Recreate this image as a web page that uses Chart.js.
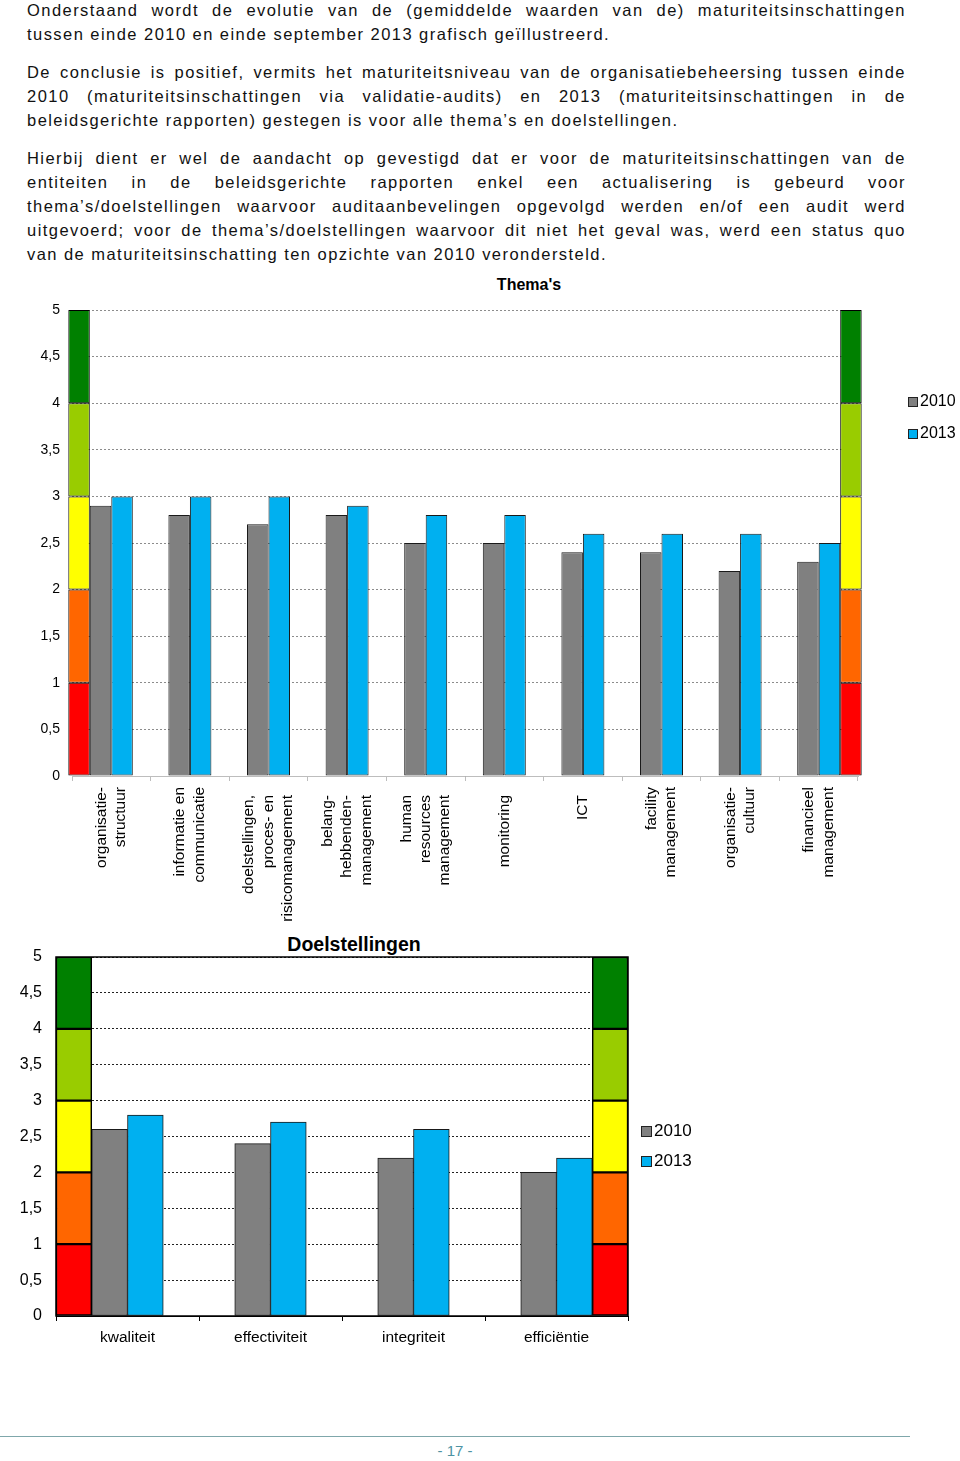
<!DOCTYPE html>
<html><head><meta charset="utf-8">
<script src="https://cdn.jsdelivr.net/npm/chart.js@4.4.0/dist/chart.umd.min.js"></script>
<style>
html,body{margin:0;padding:0;background:#fff;}
body{width:960px;height:1461px;position:relative;overflow:hidden;font-family:'Liberation Sans',Arial,sans-serif;color:#111;}
#text{position:absolute;left:27px;top:-2px;width:879px;font-size:16.5px;letter-spacing:1.45px;line-height:24px;}
#text .p{margin:0 0 14px 0;}
#text .j{text-align:justify;text-align-last:justify;}
#text .l{text-align:left;}
.title{position:absolute;font-weight:bold;text-align:center;color:#000;}
.leg{position:absolute;color:#000;white-space:nowrap;}
.leg span.sw{display:inline-block;border:1px solid #222;vertical-align:middle;margin-right:2px;}
.cw{position:absolute;left:0;}
#foot{position:absolute;left:0;top:1436px;width:910px;height:1px;background:#7fa7ab;}
#pg{position:absolute;left:405px;width:100px;top:1442px;text-align:center;font-size:15px;color:#4d93a3;}
</style>
</head><body>
<div id="text">
<div class="p">
<div class="j">Onderstaand wordt de evolutie van de (gemiddelde waarden van de) maturiteitsinschattingen</div>
<div class="l">tussen einde 2010 en einde september 2013 grafisch geïllustreerd.</div>
</div>
<div class="p">
<div class="j">De conclusie is positief, vermits het maturiteitsniveau van de organisatiebeheersing tussen einde</div>
<div class="j">2010 (maturiteitsinschattingen via validatie-audits) en 2013 (maturiteitsinschattingen in de</div>
<div class="l">beleidsgerichte rapporten) gestegen is voor alle thema’s en doelstellingen.</div>
</div>
<div class="p">
<div class="j">Hierbij dient er wel de aandacht op gevestigd dat er voor de maturiteitsinschattingen van de</div>
<div class="j">entiteiten in de beleidsgerichte rapporten enkel een actualisering is gebeurd voor</div>
<div class="j">thema’s/doelstellingen waarvoor auditaanbevelingen opgevolgd werden en/of een audit werd</div>
<div class="j">uitgevoerd; voor de thema’s/doelstellingen waarvoor dit niet het geval was, werd een status quo</div>
<div class="l">van de maturiteitsinschatting ten opzichte van 2010 verondersteld.</div>
</div>
</div>

<div class="title" style="left:429px;width:200px;top:276px;font-size:16px;">Thema's</div>
<div class="cw" style="top:290px;width:960px;height:640px;"><canvas id="c1" width="960" height="640"></canvas></div>
<div class="leg" style="left:908px;top:392px;font-size:16px;"><span class="sw" style="width:8px;height:8px;background:#808080"></span>2010</div>
<div class="leg" style="left:908px;top:424px;font-size:16px;"><span class="sw" style="width:8px;height:8px;background:#00b0f0"></span>2013</div>

<div class="title" style="left:204px;width:300px;top:933px;font-size:19.5px;">Doelstellingen</div>
<div class="cw" style="top:940px;width:700px;height:410px;"><canvas id="c2" width="700" height="410"></canvas></div>
<div class="leg" style="left:641px;top:1121px;font-size:17px;"><span class="sw" style="width:9px;height:9px;background:#808080"></span>2010</div>
<div class="leg" style="left:641px;top:1151px;font-size:17px;"><span class="sw" style="width:9px;height:9px;background:#00b0f0"></span>2013</div>

<div id="foot"></div>
<div id="pg">- 17 -</div>

<script>
// ---- data ----
const themaCategories = ['organisatiestructuur','informatie en communicatie','doelstellingen, proces- en risicomanagement','belanghebbendenmanagement','human resources management','monitoring','ICT','facility management','organisatiecultuur','financieel management'];
const themaLabelLines = [
  ['organisatie-','structuur'],
  ['informatie en','communicatie'],
  ['doelstellingen,','proces- en','risicomanagement'],
  ['belang-','hebbenden-','management'],
  ['human','resources','management'],
  ['monitoring'],
  ['ICT'],
  ['facility','management'],
  ['organisatie-','cultuur'],
  ['financieel','management']
];
const thema2010 = [2.9, 2.8, 2.7, 2.8, 2.5, 2.5, 2.4, 2.4, 2.2, 2.3];
const thema2013 = [3.0, 3.0, 3.0, 2.9, 2.8, 2.8, 2.6, 2.6, 2.6, 2.5];

const doelCategories = ['kwaliteit','effectiviteit','integriteit','efficiëntie'];
const doel2010 = [2.6, 2.4, 2.2, 2.0];
const doel2013 = [2.8, 2.7, 2.6, 2.2];

const seriesNames = ['2010','2013'];
const bandSteps = [1, 1, 1, 1, 1];
const bandColors = ['#ff0000','#ff6600','#ffff00','#99cc00','#008000'];
const yTickValues = [0, 0.5, 1, 1.5, 2, 2.5, 3, 3.5, 4, 4.5, 5];

// ---- helpers ----
const FONT = "'Liberation Sans', Arial, sans-serif";
const fmt = v => String(v).replace('.', ',');

function bandDatasets(n, where, stack, bw) {
  return bandSteps.map((s, k) => ({
    label: 'band' + stack + k,
    data: Array.from({length: n}, (_, i) => i === where ? s : null),
    backgroundColor: bandColors[k],
    borderColor: '#000',
    borderWidth: bw,
    borderSkipped: false,
    stack: stack,
    clip: false
  }));
}
function seriesDatasets(a, b, bw) {
  return [
    {label: seriesNames[0], data: a, backgroundColor: '#808080', borderColor: '#1a1a1a', borderWidth: bw, borderSkipped: false, stack: 'a', clip: false},
    {label: seriesNames[1], data: b, backgroundColor: '#00b0f0', borderColor: '#1a1a1a', borderWidth: bw, borderSkipped: false, stack: 'b', clip: false}
  ];
}
const noPad = s => { s.paddingTop = 0; s.paddingBottom = 0; };

// ---- chart 1 ----
const n1 = themaCategories.length;
const LF1 = 15.5, LH1 = 1.25, lh1 = LF1 * LH1;
const evenLabels = themaLabelLines.map(l => l.length === 2 ? l : '');
const oddLabels = themaLabelLines.map(l => l.length === 3 ? l : (l.length === 1 ? ['', l[0], ''] : ''));

new Chart(document.getElementById('c1'), {
  type: 'bar',
  data: {
    labels: themaCategories,
    datasets: [
      ...bandDatasets(n1, 0, 'L', 1),
      ...seriesDatasets(thema2010, thema2013, 1),
      ...bandDatasets(n1, n1 - 1, 'R', 1)
    ]
  },
  options: {
    responsive: false,
    animation: false,
    categoryPercentage: 1.094,
    barPercentage: 1,
    layout: {padding: {top: 20, right: 102, left: 0, bottom: 0}},
    plugins: {legend: {display: false}, title: {display: false}, tooltip: {enabled: true, filter: it => !it.dataset.label.startsWith('band')}},
    scales: {
      x: {
        stacked: true, labels: evenLabels,
        grid: {display: true, offset: true, drawOnChartArea: false, drawTicks: true, tickLength: 5, color: '#bdbdbd'},
        border: {display: true, color: '#bdbdbd', width: 1},
        ticks: {autoSkip: false, minRotation: 90, maxRotation: 90, padding: 6, labelOffset: -lh1 / 2, color: '#000', font: {family: FONT, size: LF1, lineHeight: LH1}},
        afterFit: s => { s.height = 154; s.paddingLeft = 0; s.paddingRight = 0; }
      },
      x2: {
        type: 'category', axis: 'x', position: {y: 0}, labels: oddLabels, offset: true,
        grid: {display: false}, border: {display: false},
        ticks: {autoSkip: false, minRotation: 90, maxRotation: 90, padding: 11, labelOffset: -lh1, color: '#000', font: {family: FONT, size: LF1, lineHeight: LH1}}
      },
      y: {
        min: 0, max: 5, stacked: true,
        afterBuildTicks: s => { s.ticks = yTickValues.map(v => ({value: v})); },
        ticks: {padding: 12, color: '#000', font: {family: FONT, size: 14}, callback: v => fmt(v)},
        grid: {color: '#8c8c8c', drawTicks: false, lineWidth: 1},
        border: {display: false, dash: [2, 2]},
        afterFit: s => { s.width = 72; noPad(s); }
      }
    }
  }
});

// ---- chart 2 ----
const n2 = doelCategories.length;
const framePlugin = {
  id: 'frame',
  afterDraw(chart) {
    const {ctx, chartArea: a} = chart;
    ctx.save();
    ctx.strokeStyle = '#000';
    ctx.lineWidth = 1.5;
    ctx.strokeRect(a.left, a.top, a.right - a.left, a.bottom - a.top);
    ctx.restore();
  }
};
new Chart(document.getElementById('c2'), {
  type: 'bar',
  data: {
    labels: doelCategories,
    datasets: [
      ...bandDatasets(n2, 0, 'L', 1.5),
      ...seriesDatasets(doel2010, doel2013, 1),
      ...bandDatasets(n2, n2 - 1, 'R', 1.5)
    ]
  },
  plugins: [framePlugin],
  options: {
    responsive: false,
    animation: false,
    categoryPercentage: 1.0,
    barPercentage: 1,
    layout: {padding: {top: 17, right: 72, left: 0, bottom: 0}},
    plugins: {legend: {display: false}, title: {display: false}, tooltip: {enabled: true, filter: it => !it.dataset.label.startsWith('band')}},
    scales: {
      x: {
        stacked: true,
        grid: {display: true, offset: true, drawOnChartArea: false, drawTicks: true, tickLength: 5, color: '#000'},
        border: {display: true, color: '#000', width: 1},
        ticks: {autoSkip: false, maxRotation: 0, padding: 7, color: '#000', font: {family: FONT, size: 15.5}},
        afterFit: s => { s.height = 34; }
      },
      y: {
        min: 0, max: 5, stacked: true,
        afterBuildTicks: s => { s.ticks = yTickValues.map(v => ({value: v})); },
        ticks: {padding: 14, color: '#000', font: {family: FONT, size: 16}, callback: v => fmt(v)},
        grid: {color: '#222', drawTicks: false, lineWidth: 1},
        border: {display: false, dash: [2, 2]},
        afterFit: s => { s.width = 56; noPad(s); }
      }
    }
  }
});
</script>
</body></html>
